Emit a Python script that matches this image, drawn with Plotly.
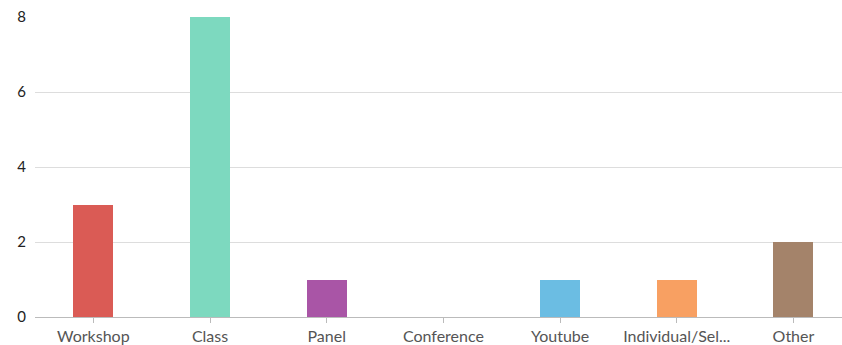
import plotly.graph_objects as go

categories = ["Workshop", "Class", "Panel", "Conference", "Youtube", "Individual/Sel...", "Other"]
values = [3, 8, 1, 0, 1, 1, 2]
colors = ["#DA5B55", "#7DD9BF", "#A955A6", "#888888", "#6BBDE3", "#F8A062", "#A4836A"]

fig = go.Figure(go.Bar(
    x=categories, y=values,
    marker=dict(color=colors, line=dict(width=0)),
    width=0.343,
))
fig.update_layout(
    width=842, height=345,
    margin=dict(l=35, r=0, t=17, b=28),
    paper_bgcolor="white", plot_bgcolor="white",
    font=dict(family="Lato, sans-serif", size=15, color="#555"),
    showlegend=False,
    bargap=0,
)
fig.update_xaxes(
    range=[-0.5, 6.416], showgrid=False,
    showline=True, linecolor="#bbbbbb", linewidth=1,
    ticks="outside", ticklen=5, tickcolor="#bbbbbb",
    tickfont=dict(size=16, color="#555"),
)
fig.update_yaxes(
    range=[0, 8], dtick=2, showgrid=True, gridcolor="#dddddd", gridwidth=1,
    zeroline=False, showline=False,
    tickfont=dict(size=15, color="#222"), ticklabelstandoff=8,
)
fig.write_html("out.html")
